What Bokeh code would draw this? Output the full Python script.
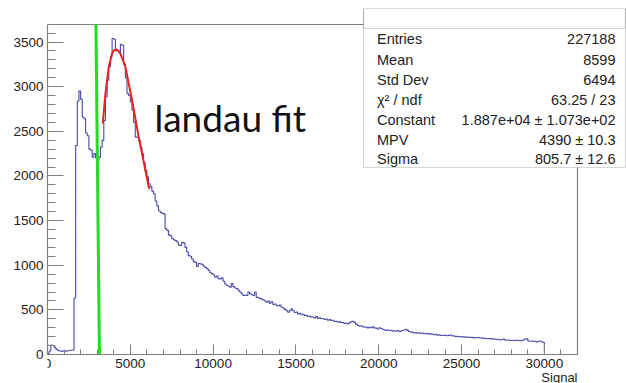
import numpy as np
from bokeh.plotting import figure
from bokeh.models import Label, BoxAnnotation, SingleIntervalTicker, Range1d
from bokeh.embed import file_html
from bokeh.resources import INLINE

# ---------------- data ----------------
bin_width = 100
counts = [
    10, 40, 105, 100, 80, 60, 45, 40, 38, 38,
    40, 38, 42, 45, 48, 50, 630, 2340, 2840, 2950,
    2860, 2660, 2640, 2480, 2450, 2300, 2290, 2210, 2250, 2200,
    2180, 2211, 2323, 2398, 2622, 2884, 3071, 3220, 3340, 3540,
    3530, 3400, 3400, 3380, 3474, 3460, 3250, 3100, 2922, 2900,
    2828, 2735, 2600, 2435, 2430, 2398, 2320, 2249, 2150, 2062,
    1990, 1912, 1880, 1830, 1800, 1720, 1665, 1610, 1590, 1580,
    1575, 1410, 1390, 1340, 1330, 1300, 1285, 1275, 1260, 1225,
    1220, 1258, 1250, 1200, 1150, 1107, 1100, 1070, 1040, 1032,
    985, 1020, 1015, 1010, 990, 975, 962, 940, 915, 906,
    890, 865, 880, 850, 847, 860, 820, 790, 772, 765,
    753, 794, 760, 745, 738, 720, 700, 680, 660, 665,
    660, 700, 680, 670, 660, 700, 640, 635, 626, 620,
    610, 600, 585, 600, 575, 590, 560, 565, 548, 545,
    555, 530, 520, 505, 490, 473, 490, 511, 490, 470,
    475, 455, 462, 445, 450, 436, 440, 425, 432, 417,
    420, 410, 425, 405, 412, 400, 403, 392, 398, 385,
    392, 380, 383, 370, 372, 362, 368, 355, 358, 348,
    352, 343, 355, 368, 372, 360, 340, 325, 318, 322,
    312, 305, 308, 298, 305, 300, 310, 298, 295, 285,
    300, 292, 282, 278, 270, 275, 268, 272, 262, 266,
    261, 268, 258, 262, 268, 275, 282, 270, 258, 252,
    248, 240, 245, 238, 242, 235, 240, 232, 236, 231,
    234, 228, 230, 222, 225, 215, 220, 212, 216, 214,
    216, 210, 214, 218, 208, 210, 200, 204, 200, 198,
    200, 194, 198, 190, 196, 190, 192, 186, 190, 187,
    190, 185, 186, 180, 182, 176, 180, 175, 178, 170,
    172, 166, 170, 164, 166, 172, 162, 160, 162, 156,
    160, 156, 158, 160, 156, 154, 158, 162, 172, 176,
    152, 148, 152, 145, 148, 140, 148, 152, 142, 135,
]

fit_x = [3335, 3498, 3697, 3902, 4000, 4143, 4270, 4403, 4705, 4904,
         5109, 5308, 5507, 5712, 5911, 6110, 6160]
fit_y = [2585, 2922, 3220, 3370, 3405, 3418, 3405, 3370, 3220, 3034,
         2847, 2641, 2435, 2249, 2062, 1875, 1855]

cut_x = [2925, 3136]
cut_y = [3696, 0]

stats_labels = ["Entries", "Mean", "Std Dev", "\u03c7\u00b2 / ndf", "Constant", "MPV", "Sigma"]
stats_values = ["227188", "8599", "6494", "63.25 / 23",
                "1.887e+04 \u00b1 1.073e+02", "4390 \u00b1 10.3", "805.7 \u00b1 12.6"]

x_max = 32000
y_max = 3696

# ---------------- geometry (canvas pixel -> data) ----------------
W, H = 626, 383
FL, FR, FT, FB = 47.0, 577.0, 24.0, 354.0   # visible histogram frame
ux = x_max / (FR - FL)                       # data units per pixel
uy = y_max / (FB - FT)


def px2x(px):
    return (px - FL) * ux


def py2y(py):
    return (FB - py) * uy


# plotting frame spans from x=47 to canvas right and from y=8 to canvas bottom
x_range = Range1d(0, px2x(W))
y_range = Range1d(py2y(H), py2y(8))

p = figure(width=W, height=H, output_backend="svg", toolbar_location=None,
           x_range=x_range, y_range=y_range,
           min_border_left=int(FL), min_border_right=0, min_border_top=8,
           min_border_bottom=0)
p.grid.visible = False
p.outline_line_color = None
p.background_fill_color = "white"
p.border_fill_color = "white"

FONT = "Liberation Sans"
for ax in (p.xaxis[0], p.yaxis[0]):
    ax.axis_line_color = "#808080"
    ax.axis_line_width = 1.2
    ax.major_tick_line_color = "#808080"
    ax.minor_tick_line_color = "#808080"
    ax.major_tick_out = 0
    ax.minor_tick_out = 0
    ax.major_label_text_font = FONT
    ax.major_label_text_font_size = "13.5px"
    ax.major_label_text_color = "#222222"

p.xaxis.ticker = SingleIntervalTicker(interval=5000, num_minor_ticks=5)
p.yaxis.ticker = SingleIntervalTicker(interval=500, num_minor_ticks=5)
p.xaxis.bounds = (0, x_max)
p.yaxis.bounds = (0, y_max)
p.xaxis.fixed_location = 0
p.xaxis.major_tick_in = 10
p.xaxis.minor_tick_in = 5
p.yaxis.major_tick_in = 16
p.yaxis.minor_tick_in = 8
p.xaxis.major_label_standoff = 4
p.yaxis.major_label_standoff = 4

# top and right frame edges
p.line([0, x_max, x_max], [y_max, y_max, 0], line_color="#808080", line_width=1.2)

# histogram as a step outline
edges = np.arange(len(counts) + 1) * bin_width
cvals = np.array(counts, dtype=float)
hx = np.concatenate([[edges[0]], np.repeat(edges, 2)[1:-1], [edges[-1]]])
hy = np.concatenate([[0], np.repeat(cvals, 2), [0]])
p.line(hx, hy, line_color="#4848a8", line_width=1.1)

# landau fit curve
p.line(fit_x, fit_y, line_color="#e8231f", line_width=2)

# green cut line
p.line(cut_x, cut_y, line_color="#22dd22", line_width=3)

# "landau fit" text
p.add_layout(Label(x=px2x(154), y=py2y(116.7), text="landau fit",
                   text_font="Lato", text_font_size="37px",
                   text_color="#111111", text_baseline="alphabetic"))

# statistics box
box = BoxAnnotation(left=px2x(363), right=px2x(625), top=py2y(8), bottom=py2y(167),
                    fill_color="white", fill_alpha=1.0, line_color="#777777",
                    line_width=1.2, level="overlay")
p.add_layout(box)
hdr = BoxAnnotation(left=px2x(363), right=px2x(625), top=py2y(8), bottom=py2y(28),
                    fill_alpha=0.0, line_color="#777777", line_width=1.2, level="overlay")
p.add_layout(hdr)

row_y = [38.3, 59.0, 79.3, 99.3, 119.0, 139.3, 158.3]
for lab, val, ry in zip(stats_labels, stats_values, row_y):
    p.add_layout(Label(x=px2x(376.5), y=py2y(ry), text=lab, text_font=FONT,
                       text_font_size="14.5px", text_color="#222222",
                       text_baseline="middle", text_align="left", level="overlay"))
    p.add_layout(Label(x=px2x(615), y=py2y(ry), text=val, text_font=FONT,
                       text_font_size="14.5px", text_color="#222222",
                       text_baseline="middle", text_align="right", level="overlay"))

# x axis title
p.add_layout(Label(x=px2x(577), y=py2y(376.5), text="Signal", text_font=FONT,
                   text_font_size="13px", text_color="#222222",
                   text_baseline="alphabetic", text_align="right"))

open("out.html", "w").write(file_html(p, INLINE))
